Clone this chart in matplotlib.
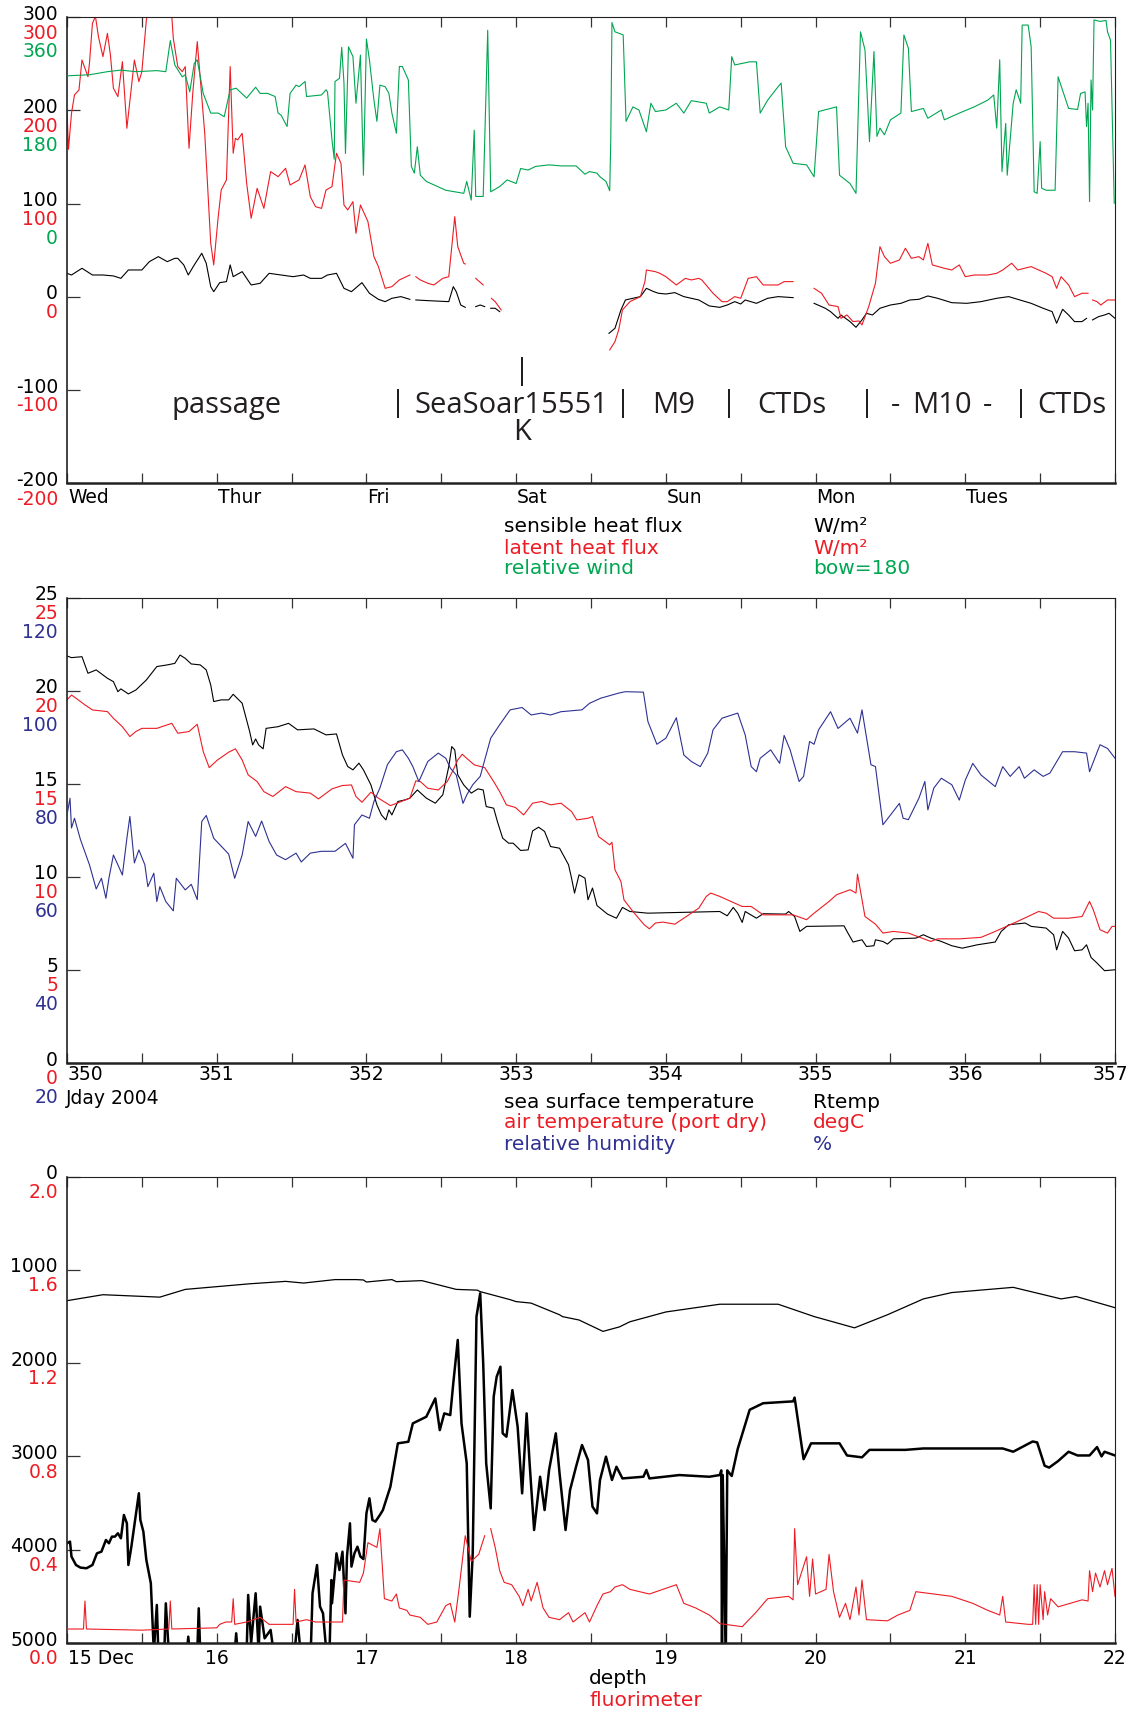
import numpy as np
import matplotlib
matplotlib.use('Agg')
import matplotlib.pyplot as plt

nan = np.nan

# ========== 1. data ==========
# --- panel 1: heat fluxes + relative wind (x = Jday 2004) ---
wind_day = [350.00, 350.15, 350.27, 350.36, 350.46, 350.60, 350.66, 350.69, 350.72, 350.77,
            350.79, 350.82, 350.85, 350.87, 350.91, 350.96, 351.01, 351.05, 351.09, 351.13,
            351.20, 351.26, 351.29, 351.34, 351.39, 351.41, 351.43, 351.47, 351.49, 351.53,
            351.55, 351.59, 351.60, 351.70, 351.73, 351.74, 351.77, 351.785, 351.79, 351.82,
            351.835, 351.85, 351.86, 351.88, 351.91, 351.93, 351.96, 351.98, 352.00, 352.02,
            352.05, 352.07, 352.09, 352.125, 352.15, 352.17, 352.20, 352.22, 352.24, 352.28,
            352.30, 352.32, 352.34, 352.36, 352.40, 352.53, 352.65, 352.67, 352.70, 352.72,
            352.73, 352.78, 352.81, 352.83, 352.89, 352.94, 353.00, 353.03, 353.08, 353.13,
            353.22, 353.30, 353.40, 353.46, 353.49, 353.54, 353.56, 353.60, 353.625, 353.632,
            353.64, 353.66, 353.715, 353.734, 353.78, 353.82, 353.87, 353.90, 353.93, 354.00,
            354.07, 354.12, 354.17, 354.27, 354.29, 354.36, 354.42, 354.44, 354.46, 354.56,
            354.605, 354.63, 354.68, 354.75, 354.77, 354.80, 354.85, 354.94, 354.99, 355.02,
            355.14, 355.16, 355.23, 355.27, 355.30, 355.33, 355.36, 355.39, 355.41, 355.43,
            355.46, 355.50, 355.57, 355.59, 355.62, 355.64, 355.72, 355.75, 355.84, 355.86,
            355.96, 356.06, 356.15, 356.19, 356.21, 356.23, 356.245, 356.27, 356.28, 356.32,
            356.34, 356.37, 356.38, 356.42, 356.44, 356.46, 356.48, 356.50, 356.51, 356.54,
            356.60, 356.62, 356.69, 356.75, 356.77, 356.80, 356.81, 356.82, 356.83, 356.84,
            356.85, 356.86, 356.90, 356.94, 356.95, 356.97, 356.995]
wind_dir = [247, 249, 255, 258, 255, 257, 255, 315, 268, 245,
            249, 216, 271, 278, 213, 175, 175, 168, 220, 223,
            204, 225, 213, 213, 207, 175, 171, 149, 213, 229,
            226, 236, 207, 210, 220, 216, 123, 86, 236, 242,
            302, 233, 97, 303, 284, 194, 287, 55, 318, 278,
            200, 159, 229, 226, 213, 175, 136, 265, 265, 239,
            72, 59, 110, 55, 43, 26, 20, 43, 7, 142,
            14, 14, 335, 23, 33, 46, 39, 68, 65, 72,
            75, 73, 73, 57, 62, 59, 52, 43, 25, 123,
            350, 332, 326, 159, 187, 181, 139, 194, 178, 181,
            194, 175, 199, 194, 175, 187, 181, 284, 268, 274,
            274, 175, 200, 226, 233, 110, 78, 75, 52, 178,
            187, 55, 39, 20, 332, 297, 120, 294, 130, 146,
            133, 162, 175, 326, 300, 178, 184, 165, 181, 162,
            175, 187, 200, 210, 146, 278, 62, 155, 55, 194,
            220, 194, 345, 345, 303, 23, 20, 120, 30, 26,
            26, 245, 184, 182, 213, 216, 149, 194, 4, 239,
            181, 355, 352, 354, 332, 316, 1]

latent_day = [350.00, 350.01, 350.03, 350.05, 350.08, 350.10, 350.14, 350.15, 350.17, 350.19,
              350.21, 350.24, 350.27, 350.29, 350.31, 350.34, 350.37, 350.40, 350.45, 350.48,
              350.50, 350.53, 350.54, 350.67, 350.70, 350.71, 350.74, 350.77, 350.79, 350.815,
              350.84, 350.87, 350.92, 350.96, 350.98, 351.01, 351.03, 351.065, 351.09, 351.11,
              351.125, 351.14, 351.17, 351.20, 351.23, 351.27, 351.315, 351.36, 351.41, 351.46,
              351.49, 351.55, 351.59, 351.625, 351.66, 351.70, 351.73, 351.77, 351.80, 351.83,
              351.85, 351.875, 351.91, 351.93, 351.96, 352.01, 352.05, 352.08, 352.125, 352.17,
              352.22, 352.29, 352.31, 352.33, 352.36, 352.41, 352.45, 352.51, 352.55, 352.59,
              352.61, 352.65, 352.66, 352.70, 352.73, 352.78, 352.81, 352.835, 352.86, 352.90,
              353.20, 353.625, 353.66, 353.685, 353.71, 353.76, 353.83, 353.86, 353.87, 353.93,
              353.96, 354.00, 354.07, 354.13, 354.17, 354.22, 354.24, 354.315, 354.375, 354.41,
              354.46, 354.50, 354.55, 354.605, 354.65, 354.75, 354.79, 354.85, 354.92, 354.99,
              355.04, 355.09, 355.15, 355.17, 355.21, 355.25, 355.29, 355.31, 355.355, 355.40,
              355.43, 355.46, 355.50, 355.56, 355.60, 355.64, 355.69, 355.72, 355.75, 355.78,
              355.86, 355.91, 355.96, 356.00, 356.06, 356.15, 356.21, 356.25, 356.31, 356.35,
              356.44, 356.54, 356.58, 356.61, 356.64, 356.69, 356.73, 356.78, 356.82, 356.835,
              356.85, 356.88, 356.905, 356.95, 357.00]
latent_flux = [200.6, 158.4, 197, 216.7, 222, 254.2, 236.3, 250.6, 293.6, 301,
               279.3, 257.8, 282.8, 259.6, 223.8, 214.9, 252.4, 180.9, 254.2, 231,
               241.7, 297, 305, 305, 301, 277.5, 247.1, 241.7, 247.1, 159.4,
               218.5, 273.9, 175.5, 57.5, 34.3, 86.1, 114.7, 125.5, 247.1, 154.1,
               170.2, 168.4, 175.5, 121.9, 84.3, 116.5, 95, 134.4, 129, 138,
               120.1, 125.5, 141.6, 107.6, 96.8, 95, 114.7, 118.3, 154.1, 143.3,
               98.6, 93.3, 102.2, 68.2, 98.6, 80.8, 43.2, 32.5, 9.2, 11,
               18.2, 23.5, nan, 21.7, 18.2, 14.6, 12.8, 19.9, 21.7, 86.1,
               53.9, 36.1, 35.3, nan, 19.9, 12.8, nan, -1.5, -5.1, -14,
               nan, -56.9, -48, -35.5, -14, -5.1, 0.3, 16.4, 28.9, 27.1,
               25.3, 21.7, 12.8, 19.9, 18.2, 19.9, 18.2, 3.9, -5.1, -5.1,
               0.3, -1.5, 19.9, 21.7, 12.8, 12.8, 16.4, 16.4, nan, 9.2,
               3.9, -8.7, -10.4, -23, -19.4, -26.5, -25.8, -30.1, -10.4, 14.6,
               53.9, 43.2, 36.1, 39.6, 52.2, 41.4, 43.2, 39.6, 57.5, 34.3,
               30.7, 28.9, 34.3, 21.7, 23.5, 23.5, 25.3, 28.9, 36.1, 28.9,
               32.5, 25.3, 21.7, 9.2, 21.7, 12.8, 0.3, 3.9, 3.9, nan,
               -3.3, -5.1, -8.7, -3.3, -3.3]

sens_day = [350.00, 350.03, 350.10, 350.17, 350.24, 350.31, 350.36, 350.41, 350.50, 350.55,
            350.61, 350.67, 350.72, 350.74, 350.78, 350.81, 350.85, 350.90, 350.93, 350.96,
            350.98, 351.02, 351.065, 351.09, 351.11, 351.17, 351.23, 351.29, 351.35, 351.43,
            351.51, 351.58, 351.625, 351.70, 351.74, 351.80, 351.85, 351.90, 351.97, 352.02,
            352.08, 352.125, 352.17, 352.23, 352.29, 352.31, 352.33, 352.41, 352.55, 352.58,
            352.60, 352.63, 352.66, 352.70, 352.73, 352.76, 352.79, 352.81, 352.83, 352.86,
            352.89, 353.20, 353.62, 353.66, 353.70, 353.73, 353.78, 353.83, 353.87, 353.92,
            353.95, 354.00, 354.06, 354.12, 354.22, 354.29, 354.36, 354.41, 354.46, 354.50,
            354.53, 354.605, 354.68, 354.75, 354.85, 354.92, 354.99, 355.065, 355.10, 355.15,
            355.17, 355.23, 355.27, 355.31, 355.34, 355.38, 355.43, 355.50, 355.57, 355.63,
            355.69, 355.75, 355.815, 355.91, 356.01, 356.105, 356.21, 356.29, 356.35, 356.44,
            356.52, 356.58, 356.61, 356.65, 356.69, 356.73, 356.78, 356.81, 356.83, 356.85,
            356.89, 356.93, 356.96, 357.00]
sens_flux = [25.3, 23.5, 30.7, 23.5, 23.5, 22.5, 19.9, 28.9, 28.9, 37.8,
             43.2, 37.8, 41.4, 41.4, 34.3, 23.5, 34.3, 46.8, 36.1, 11,
             5.6, 15.3, 16.4, 34.3, 21.7, 27.1, 12.8, 14.6, 25.3, 23.5,
             21.7, 23.5, 19.9, 19.9, 23.5, 25.3, 9.2, 5.6, 15.3, 3.9,
             -2.6, -5.1, -1.5, 0.3, -2.6, nan, -3.3, -4, -5.1, 11,
             5.6, -8.7, -11.2, nan, -10.4, -8.7, -10.4, nan, -12.2, -12.2,
             -15.8, nan, -39.1, -33.7, -14, -3.3, -1.5, 0.3, 9.2, 5.6,
             3.9, 3.1, 4.6, 0.3, -3.3, -9.7, -11.2, -8.7, -5.1, -7.6,
             -3.3, -6.9, -1.5, 0.3, -0.8, nan, -6.9, -12.2, -15.8, -23,
             -19.4, -26.5, -32.6, -24.7, -17.6, -19.4, -12.2, -8.7, -6.9, -3.3,
             -2.6, 1, -1.5, -6.2, -6.9, -5.1, -1.5, 0.3, -2.6, -6.9,
             -12.2, -15.8, -28.3, -13.3, -19.4, -26.5, -26.5, -23, nan, -24.7,
             -21.2, -19.4, -17.6, -23]

# --- panel 2: temperatures + humidity (x = Jday 2004) ---
sst_day = [350.00, 350.03, 350.10, 350.14, 350.195, 350.27, 350.31, 350.34, 350.36, 350.41,
           350.46, 350.53, 350.60, 350.67, 350.72, 350.755, 350.79, 350.83, 350.89, 350.93,
           350.96, 350.98, 351.03, 351.08, 351.11, 351.17, 351.22, 351.24, 351.26, 351.28,
           351.31, 351.33, 351.41, 351.48, 351.54, 351.65, 351.73, 351.80, 351.84, 351.875,
           351.91, 351.95, 351.98, 352.03, 352.07, 352.10, 352.13, 352.15, 352.17, 352.21,
           352.26, 352.29, 352.34, 352.40, 352.46, 352.51, 352.55, 352.57, 352.59, 352.61,
           352.65, 352.70, 352.745, 352.78, 352.80, 352.85, 352.875, 352.91, 352.95, 352.98,
           353.03, 353.08, 353.11, 353.15, 353.19, 353.23, 353.29, 353.35, 353.37, 353.39,
           353.42, 353.46, 353.48, 353.51, 353.54, 353.61, 353.67, 353.71, 353.76, 353.88,
           354.36, 354.41, 354.45, 354.48, 354.51, 354.53, 354.605, 354.65, 354.80, 354.82,
           354.86, 354.895, 354.94, 355.19, 355.21, 355.25, 355.31, 355.34, 355.39, 355.40,
           355.45, 355.48, 355.52, 355.67, 355.72, 355.77, 355.84, 355.91, 355.98, 356.08,
           356.20, 356.24, 356.29, 356.40, 356.44, 356.54, 356.59, 356.61, 356.65, 356.69,
           356.73, 356.78, 356.81, 356.84, 356.88, 356.93, 357.00]
sst = [21.87, 21.78, 21.83, 20.94, 21.12, 20.67, 20.49, 19.95, 20.10, 19.83,
       20.04, 20.58, 21.30, 21.39, 21.47, 21.92, 21.74, 21.44, 21.39, 21.12,
       20.31, 19.42, 19.51, 19.51, 19.81, 19.33, 17.81, 17.09, 17.41, 17.09,
       16.88, 17.98, 18.07, 18.25, 17.90, 17.95, 17.63, 17.68, 16.55, 15.93,
       15.75, 16.11, 15.75, 14.94, 13.87, 13.33, 13.06, 13.60, 13.33, 14.05,
       14.14, 14.23, 14.67, 14.23, 13.96, 14.41, 15.93, 17.00, 16.82, 15.48,
       14.94, 14.50, 14.73, 14.67, 13.78, 13.69, 12.97, 12.08, 11.81, 11.81,
       11.42, 11.45, 12.47, 12.67, 12.44, 11.63, 11.54, 10.65, 9.93, 9.13,
       10.11, 9.93, 8.77, 9.40, 8.46, 8.00, 7.78, 8.36, 8.14, 8.05,
       8.14, 7.91, 8.36, 8.05, 7.55, 8.14, 7.78, 8.02, 8.00, 8.14,
       7.87, 7.07, 7.34, 7.37, 7.07, 6.50, 6.62, 6.26, 6.30, 6.62,
       6.53, 6.39, 6.67, 6.71, 6.89, 6.71, 6.53, 6.30, 6.17, 6.35,
       6.50, 7.07, 7.43, 7.52, 7.34, 7.25, 6.89, 6.08, 7.07, 6.71,
       6.03, 6.08, 6.35, 5.67, 5.37, 4.96, 5.01]

air_day = [350.00, 350.03, 350.06, 350.12, 350.17, 350.27, 350.31, 350.37, 350.42, 350.46,
           350.50, 350.60, 350.70, 350.74, 350.815, 350.87, 350.91, 350.95, 351.005, 351.08,
           351.125, 351.17, 351.21, 351.27, 351.315, 351.375, 351.46, 351.53, 351.625, 351.68,
           351.77, 351.84, 351.90, 351.93, 351.97, 352.03, 352.08, 352.16, 352.22, 352.29,
           352.33, 352.36, 352.41, 352.48, 352.54, 352.58, 352.61, 352.64, 352.67, 352.72,
           352.79, 352.85, 352.89, 352.935, 352.995, 353.05, 353.11, 353.17, 353.23, 353.30,
           353.37, 353.405, 353.48, 353.51, 353.55, 353.625, 353.64, 353.66, 353.70, 353.72,
           353.78, 353.855, 353.89, 353.93, 353.98, 354.06, 354.12, 354.22, 354.27, 354.30,
           354.36, 354.41, 354.51, 354.57, 354.65, 354.85, 354.94, 354.99, 355.09, 355.14,
           355.23, 355.27, 355.28, 355.33, 355.40, 355.45, 355.52, 355.62, 355.77, 355.815,
           355.96, 356.105, 356.20, 356.30, 356.395, 356.49, 356.54, 356.59, 356.69, 356.78,
           356.83, 356.855, 356.90, 356.95, 356.98, 357.00]
air_temp = [19.51, 19.77, 19.60, 19.24, 18.97, 18.88, 18.52, 18.07, 17.54, 17.81,
            17.98, 17.98, 18.25, 17.72, 17.81, 18.20, 16.73, 15.87, 16.28, 16.70,
            16.88, 16.28, 15.48, 15.12, 14.58, 14.32, 14.85, 14.58, 14.50, 14.19,
            14.73, 14.91, 14.94, 14.32, 14.01, 14.55, 14.23, 13.83, 14.01, 14.23,
            15.16, 15.12, 14.76, 14.67, 15.12, 15.75, 16.28, 16.59, 16.37, 16.02,
            15.87, 15.12, 14.58, 13.87, 13.73, 13.33, 13.96, 14.05, 13.87, 13.96,
            13.51, 13.06, 13.15, 13.24, 12.17, 11.72, 11.86, 10.38, 9.75, 8.77,
            8.14, 7.43, 7.21, 7.52, 7.57, 7.46, 7.78, 8.32, 8.95, 9.13,
            8.95, 8.77, 8.41, 8.41, 7.96, 7.96, 7.70, 8.05, 8.68, 9.04,
            9.31, 9.13, 10.15, 7.87, 7.46, 6.98, 7.07, 6.98, 6.53, 6.67,
            6.67, 6.75, 7.07, 7.43, 7.78, 8.14, 8.05, 7.78, 7.78, 7.87,
            8.68, 8.23, 7.16, 6.98, 7.34, 7.34]

rh_day = [350.00, 350.02, 350.03, 350.05, 350.09, 350.15, 350.195, 350.23, 350.26, 350.28,
          350.31, 350.34, 350.37, 350.40, 350.42, 350.45, 350.48, 350.52, 350.54, 350.58,
          350.60, 350.62, 350.66, 350.71, 350.73, 350.79, 350.83, 350.87, 350.90, 350.93,
          350.98, 351.08, 351.12, 351.17, 351.21, 351.26, 351.30, 351.35, 351.40, 351.46,
          351.53, 351.565, 351.625, 351.70, 351.79, 351.86, 351.91, 351.92, 351.97, 352.02,
          352.05, 352.09, 352.14, 352.20, 352.24, 352.28, 352.31, 352.35, 352.41, 352.48,
          352.53, 352.56, 352.60, 352.645, 352.67, 352.71, 352.76, 352.79, 352.83, 352.89,
          352.96, 353.04, 353.10, 353.17, 353.23, 353.30, 353.44, 353.49, 353.565, 353.685,
          353.73, 353.85, 353.88, 353.94, 354.00, 354.07, 354.12, 354.17, 354.23, 354.28,
          354.315, 354.375, 354.48, 354.53, 354.57, 354.605, 354.63, 354.70, 354.76, 354.79,
          354.83, 354.89, 354.92, 354.96, 354.99, 355.02, 355.10, 355.15, 355.23, 355.28,
          355.31, 355.37, 355.40, 355.45, 355.50, 355.56, 355.585, 355.62, 355.69, 355.73,
          355.75, 355.79, 355.84, 355.91, 355.96, 356.00, 356.05, 356.105, 356.20, 356.25,
          356.30, 356.36, 356.395, 356.46, 356.52, 356.565, 356.65, 356.73, 356.81, 356.83,
          356.90, 356.95, 357.00]
rel_hum = [73.3, 76.9, 70.5, 72.6, 68.0, 62.6, 57.4, 59.7, 55.4, 59.7,
           64.7, 62.6, 60.4, 68.3, 73.0, 63.0, 65.8, 62.6, 57.9, 60.8,
           54.7, 57.9, 54.7, 52.7, 59.7, 57.2, 58.4, 55.1, 71.9, 73.2,
           68.3, 64.9, 59.7, 64.7, 71.9, 68.7, 72.0, 67.6, 64.7, 63.7,
           65.1, 63.2, 65.1, 65.5, 65.5, 67.2, 64.0, 71.2, 73.3, 72.6,
           76.2, 79.1, 84.1, 86.9, 87.3, 85.5, 83.7, 80.5, 84.8, 86.6,
           85.5, 83.4, 81.9, 75.8, 77.6, 79.8, 81.6, 85.1, 89.8, 92.7,
           95.9, 96.4, 94.8, 95.2, 94.8, 95.5, 95.9, 97.3, 98.4, 99.5,
           99.8, 99.7, 93.4, 88.5, 89.8, 94.2, 86.2, 84.8, 83.7, 86.6,
           91.6, 94.1, 95.2, 90.5, 83.7, 82.6, 85.5, 87.3, 84.4, 90.4,
           87.3, 80.5, 81.6, 89.1, 88.5, 91.6, 95.5, 91.9, 94.1, 90.9,
           95.9, 84.1, 83.7, 71.2, 73.3, 75.8, 72.6, 72.3, 76.9, 80.5,
           74.4, 79.1, 81.2, 79.8, 76.5, 80.8, 84.4, 81.9, 79.4, 83.7,
           81.6, 83.7, 81.2, 83.0, 81.6, 82.3, 86.9, 86.9, 86.6, 82.6,
           88.4, 87.6, 85.5]

# --- panel 3: depth + fluorimeter (x = day of December) ---
depth_a_day = [15.00, 15.24, 15.62, 15.79, 16.22, 16.46, 16.58, 16.79, 16.93, 16.98,
               17.00, 17.17, 17.20, 17.37, 17.60, 17.74, 17.76, 17.96, 18.00, 18.10,
               18.29, 18.31, 18.42, 18.58, 18.69, 18.76, 19.00, 19.36, 19.75, 19.99,
               20.26, 20.48, 20.72, 20.91, 21.32, 21.64, 21.74, 22.00]
depth_a = [1331, 1267, 1293, 1210, 1150, 1124, 1142, 1105, 1105, 1109,
           1131, 1105, 1127, 1116, 1210, 1218, 1234, 1320, 1341, 1357,
           1482, 1502, 1538, 1660, 1612, 1557, 1452, 1369, 1369, 1501,
           1622, 1482, 1312, 1244, 1188, 1312, 1286, 1406]

depth_b_day = [15.00, 15.02, 15.03, 15.06, 15.09, 15.13, 15.17, 15.20, 15.23, 15.26,
               15.28, 15.30, 15.32, 15.34, 15.36, 15.38, 15.40, 15.41, 15.43, 15.45,
               15.48, 15.49, 15.51, 15.53, 15.56, 15.57, 15.58, 15.60, 15.61, 15.65,
               15.66, 15.68, 15.80, 15.81, 15.82, 15.87, 15.88, 15.89, 16.12, 16.13,
               16.14, 16.20, 16.21, 16.23, 16.26, 16.28, 16.29, 16.32, 16.36, 16.38,
               16.52, 16.54, 16.56, 16.63, 16.64, 16.67, 16.69, 16.71, 16.73, 16.755,
               16.766, 16.77, 16.80, 16.82, 16.84, 16.86, 16.87, 16.89, 16.90, 16.92,
               16.94, 16.96, 16.98, 17.00, 17.02, 17.04, 17.06, 17.09, 17.11, 17.16,
               17.21, 17.28, 17.31, 17.40, 17.46, 17.49, 17.52, 17.56, 17.58, 17.61,
               17.635, 17.67, 17.69, 17.71, 17.735, 17.76, 17.78, 17.80, 17.83, 17.85,
               17.87, 17.895, 17.91, 17.935, 17.975, 18.01, 18.04, 18.07, 18.09, 18.12,
               18.16, 18.19, 18.22, 18.265, 18.29, 18.33, 18.36, 18.40, 18.44, 18.48,
               18.51, 18.54, 18.56, 18.60, 18.64, 18.67, 18.71, 18.85, 18.87, 18.89,
               19.09, 19.29, 19.36, 19.37, 19.375, 19.38, 19.40, 19.41, 19.44, 19.48,
               19.56, 19.65, 19.85, 19.86, 19.92, 19.97, 20.16, 20.21, 20.31, 20.36,
               20.60, 20.72, 21.25, 21.32, 21.45, 21.48, 21.53, 21.56, 21.62, 21.69,
               21.75, 21.83, 21.88, 21.91, 21.93, 22.00]
depth_b = [3931, 3913, 4074, 4164, 4192, 4199, 4164, 4039, 4021, 3896,
           3931, 3860, 3860, 3824, 3878, 3628, 3717, 4164, 3967, 3735,
           3395, 3681, 3806, 4110, 4360, 4717, 5100, 4592, 5100, 5100,
           4575, 5100, 5100, 4932, 5100, 5100, 4628, 5100, 5100, 4896,
           5100, 5100, 4485, 5000, 4467, 5100, 4610, 4950, 4860, 5100,
           5100, 4753, 5100, 5000, 4467, 4164, 4610, 4682, 5050, 5000,
           4325, 4575, 4039, 4218, 4021, 4682, 4074, 3717, 4181, 4039,
           3968, 4074, 4100, 3610, 3449, 3682, 3699, 3628, 3575, 3325,
           2860, 2843, 2646, 2575, 2378, 2718, 2539, 2557, 2218, 1752,
           2646, 3075, 4718, 4039, 1502, 1252, 2003, 3075, 3557, 2360,
           2146, 2039, 2753, 2789, 2289, 2682, 3396, 2539, 3075, 3789,
           3218, 3575, 3146, 2753, 3182, 3789, 3361, 3111, 2878, 3039,
           3539, 3611, 3253, 3003, 3253, 3111, 3236, 3218, 3146, 3236,
           3200, 3218, 3200, 3150, 5200, 3200, 5200, 3150, 3210, 2920,
           2500, 2430, 2410, 2370, 3030, 2860, 2860, 2990, 3010, 2930,
           2930, 2915, 2915, 2950, 2840, 2850, 3100, 3120, 3050, 2950,
           2990, 2990, 2900, 3000, 2950, 2990]

fluor_day = [15.00, 15.11, 15.12, 15.13, 15.50, 15.68, 15.69, 15.70, 16.00, 16.02,
             16.06, 16.10, 16.11, 16.12, 16.20, 16.29, 16.35, 16.51, 16.52, 16.53,
             16.60, 16.66, 16.82, 16.84, 16.85, 16.955, 16.98, 17.01, 17.07, 17.09,
             17.12, 17.17, 17.20, 17.22, 17.27, 17.29, 17.36, 17.41, 17.47, 17.53,
             17.56, 17.59, 17.62, 17.66, 17.70, 17.75, 17.79, 17.81, 17.83, 17.86,
             17.89, 17.92, 17.97, 18.02, 18.045, 18.08, 18.10, 18.14, 18.18, 18.22,
             18.29, 18.35, 18.38, 18.46, 18.49, 18.54, 18.58, 18.63, 18.66, 18.71,
             18.76, 18.89, 19.07, 19.12, 19.16, 19.20, 19.29, 19.36, 19.51, 19.60,
             19.68, 19.82, 19.85, 19.86, 19.88, 19.94, 19.96, 19.98, 20.00, 20.07,
             20.09, 20.12, 20.16, 20.20, 20.23, 20.27, 20.29, 20.31, 20.34, 20.48,
             20.55, 20.63, 20.67, 20.91, 21.05, 21.15, 21.23, 21.25, 21.27, 21.42,
             21.45, 21.46, 21.47, 21.48, 21.49, 21.50, 21.52, 21.53, 21.55, 21.57,
             21.62, 21.78, 21.82, 21.83, 21.85, 21.87, 21.90, 21.93, 21.95, 21.98,
             22.00]
fluor = [0.06, 0.06, 0.18, 0.06, 0.055, 0.06, 0.18, 0.06, 0.065, 0.08,
         0.09, 0.09, 0.19, 0.08, 0.09, 0.11, 0.08, 0.08, 0.23, 0.09,
         0.10, 0.09, 0.09, 0.09, 0.27, 0.26, 0.30, 0.43, 0.41, 0.49,
         0.19, 0.18, 0.21, 0.15, 0.14, 0.12, 0.11, 0.08, 0.09, 0.16,
         0.17, 0.09, 0.24, 0.46, 0.35, 0.38, 0.46, nan, 0.49, 0.41,
         0.31, 0.26, 0.25, 0.20, 0.16, 0.23, 0.18, 0.26, 0.15, 0.11,
         0.10, 0.13, 0.09, 0.13, 0.09, 0.16, 0.21, 0.22, 0.24, 0.25,
         0.23, 0.21, 0.25, 0.17, 0.16, 0.15, 0.12, 0.083, 0.07, 0.13,
         0.19, 0.20, 0.185, 0.49, 0.25, 0.37, 0.20, 0.36, 0.21, 0.23,
         0.38, 0.22, 0.11, 0.17, 0.10, 0.24, 0.12, 0.27, 0.10, 0.095,
         0.12, 0.14, 0.22, 0.20, 0.17, 0.14, 0.12, 0.20, 0.09, 0.08,
         0.08, 0.25, 0.08, 0.25, 0.08, 0.25, 0.10, 0.22, 0.12, 0.19,
         0.155, 0.185, 0.18, 0.31, 0.22, 0.30, 0.24, 0.31, 0.25, 0.32,
         0.20]

# tick labels
flux_ticks = [300, 200, 100, 0, -100, -200]
wind_labels = ['360', '180', '0', None, None, None]
temp_ticks = [25, 20, 15, 10, 5, 0]
rh_labels = ['120', '100', '80', '60', '40', '20']
depth_ticks = [0, 1000, 2000, 3000, 4000, 5000]
fluor_labels = ['2.0', '1.6', '1.2', '0.8', '0.4', '0.0']
weekdays = ['Wed', 'Thur', 'Fri', 'Sat', 'Sun', 'Mon', 'Tues']
jdays = ['350', '351', '352', '353', '354', '355', '356', '357']
dec_days = ['15 Dec', '16', '17', '18', '19', '20', '21', '22']

# ========== 2. style ==========
RED = '#ed1c24'
GREEN = '#00a651'
BLUE = '#2e3192'
W, H = 1129, 1712
TICK_FS = 13.5
plt.rcParams['font.family'] = ['DejaVu Sans']


def px(x, y):
    # figure pixel -> figure fraction
    return x / W, 1 - y / H


def frame(ax, x0, x1, yticks):
    ax.set_xlim(x0, x1)
    ax.set_xticks(np.arange(x0, x1 + 0.01, 0.5))
    ax.set_yticks(yticks)
    ax.tick_params(axis='x', direction='in', top=True, bottom=True, length=7, width=0.9,
                   labelbottom=False, color='#333333')
    ax.tick_params(axis='y', direction='in', left=True, right=True, length=9, width=0.9,
                   labelleft=False, color='#333333')
    for s in ['top', 'right']:
        ax.spines[s].set_linewidth(0.8)
    ax.spines['left'].set_linewidth(1.2)
    ax.spines['bottom'].set_linewidth(1.8)
    for s in ax.spines.values():
        s.set_color('#222222')


def stack_labels(ax, ticks, rows, dy=18.8):
    for i, t in enumerate(ticks):
        for k, (labels, color) in enumerate(rows):
            lab = labels[i]
            if lab is None:
                continue
            ax.annotate(lab, xy=(0, t), xycoords=('axes fraction', 'data'),
                        xytext=(-9, 3 - k * dy), textcoords='offset pixels',
                        ha='right', va='center', color=color, fontsize=TICK_FS,
                        annotation_clip=False)


def x_labels(ax, positions, labels, dy, align):
    for p, lab, ha in zip(positions, labels, align):
        dx = 1 if ha == 'left' else 0
        ax.annotate(lab, xy=(p, 0), xycoords=('data', 'axes fraction'),
                    xytext=(dx, -dy), textcoords='offset pixels',
                    ha=ha, va='center', fontsize=TICK_FS, annotation_clip=False)


fig = plt.figure(figsize=(W / 100, H / 100), dpi=100)
ax1 = fig.add_axes([67 / W, 1 - 483.3 / H, 1048 / W, 466 / H])
ax2 = fig.add_axes([67 / W, 1 - 1063 / H, 1048 / W, 465.3 / H])
ax3 = fig.add_axes([67 / W, 1 - 1643 / H, 1048 / W, 466.5 / H])

# ========== 3. panel 1 ==========
ax1.plot(sens_day, sens_flux, color='black', lw=0.8)
ax1.plot(latent_day, latent_flux, color=RED, lw=0.8)
ax1.set_ylim(-200, 300)
frame(ax1, 350, 357, flux_ticks)
ax1w = ax1.twinx()
ax1w.plot(wind_day, wind_dir, color=GREEN, lw=0.8)
ax1w.set_ylim(-540, 360)   # bow=180 sits on the 200 W/m2 line
ax1w.axis('off')

stack_labels(ax1, flux_ticks, [([str(t) for t in flux_ticks], 'black'),
                               ([str(t) for t in flux_ticks], RED),
                               (wind_labels, GREEN)])
x_labels(ax1, range(350, 357), weekdays, 14, ['left'] * 7)

# cruise segments
big = dict(family='Open Sans', fontsize=21, color='#231f20')
fig.text(*px(227, 413), 'passage', ha='center', va='baseline', **big)
fig.text(*px(414, 413), 'SeaSoar15551', ha='left', va='baseline', **big)
for xb in [398, 623, 729, 867, 1021]:
    fig.text(*px(xb, 404), '|', ha='center', va='center', **big)
fig.text(*px(522, 371), '|', ha='center', va='center', **big)
fig.text(*px(522, 440), 'K', ha='center', va='baseline', **big)
fig.text(*px(674, 413), 'M9', ha='center', va='baseline', **big)
fig.text(*px(792, 413), 'CTDs', ha='center', va='baseline', **big)
fig.text(*px(896, 413), '-', ha='center', va='baseline', **big)
fig.text(*px(942, 413), 'M10', ha='center', va='baseline', **big)
fig.text(*px(988, 413), '-', ha='center', va='baseline', **big)
fig.text(*px(1072, 413), 'CTDs', ha='center', va='baseline', **big)

leg_fs = 14.5
for (yy, name, unit, c) in [(527, 'sensible heat flux', 'W/m²', 'black'),
                            (548, 'latent heat flux', 'W/m²', RED),
                            (569, 'relative wind', 'bow=180', GREEN)]:
    fig.text(*px(504, yy), name, color=c, fontsize=leg_fs, va='center')
    fig.text(*px(813, yy), unit, color=c, fontsize=leg_fs, va='center')

# ========== 4. panel 2 ==========
ax2.plot(sst_day, sst, color='black', lw=0.8)
ax2.plot(air_day, air_temp, color=RED, lw=0.8)
ax2.set_ylim(0, 25)
frame(ax2, 350, 357, temp_ticks)
ax2h = ax2.twinx()
ax2h.plot(rh_day, rel_hum, color=BLUE, lw=0.8)
ax2h.set_ylim(20, 120)
ax2h.axis('off')

stack_labels(ax2, temp_ticks, [([str(t) for t in temp_ticks], 'black'),
                               ([str(t) for t in temp_ticks], RED),
                               (rh_labels, BLUE)])
x_labels(ax2, range(350, 357), jdays[:-1], 11, ['left'] + ['center'] * 6)
ax2.annotate(jdays[-1], xy=(357, 0), xycoords=('data', 'axes fraction'),
             xytext=(-5, -11), textcoords='offset pixels', ha='center', va='center',
             fontsize=TICK_FS, annotation_clip=False)
fig.text(*px(66, 1098), 'Jday 2004', fontsize=TICK_FS, va='center')

for (yy, name, unit, c) in [(1103, 'sea surface temperature', 'Rtemp', 'black'),
                            (1123, 'air temperature (port dry)', 'degC', RED),
                            (1144, 'relative humidity', '%', BLUE)]:
    fig.text(*px(504, yy), name, color=c, fontsize=leg_fs, va='center')
    fig.text(*px(813, yy), unit, color=c, fontsize=leg_fs, va='center')

# ========== 5. panel 3 ==========
ax3.plot(depth_a_day, depth_a, color='black', lw=0.9)
ax3.plot(depth_b_day, depth_b, color='black', lw=1.8)
ax3.set_ylim(5000, 0)
frame(ax3, 15, 22, depth_ticks)
ax3f = ax3.twinx()
ax3f.plot(fluor_day, fluor, color=RED, lw=0.8)
ax3f.set_ylim(0, 2.0)
ax3f.axis('off')

stack_labels(ax3, depth_ticks, [([str(t) for t in depth_ticks], 'black'),
                                (fluor_labels, RED)])
x_labels(ax3, range(15, 23), dec_days, 15, ['left'] + ['center'] * 7)
fig.text(*px(589, 1679), 'depth', color='black', fontsize=leg_fs, va='center')
fig.text(*px(589, 1700), 'fluorimeter', color=RED, fontsize=leg_fs, va='center')

plt.savefig('out.png', dpi=100)
